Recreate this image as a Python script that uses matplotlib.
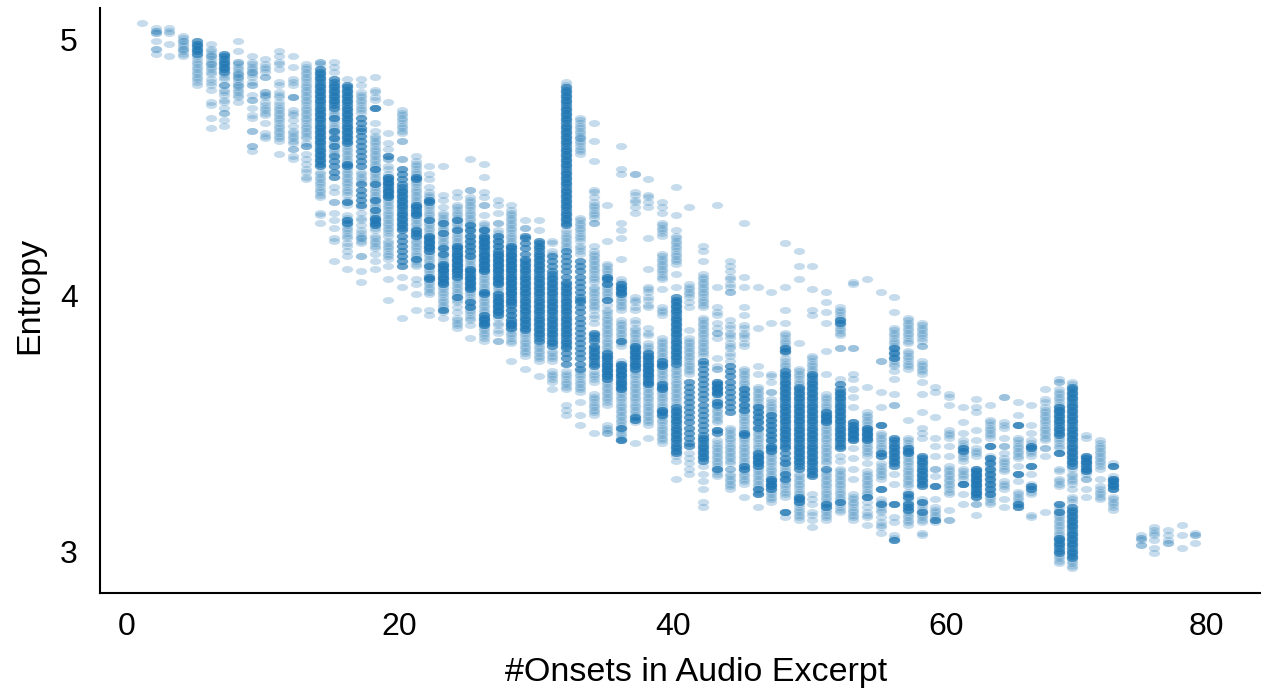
import matplotlib
matplotlib.use("Agg")
import matplotlib.pyplot as plt
from matplotlib.path import Path
from matplotlib.transforms import Affine2D
import numpy as np

plt.rcParams['font.family'] = ['Liberation Sans', 'DejaVu Sans']

# Entropy x 100 read per onset count. eNN = single points, dNN = heavily overplotted points
e01 = [507]
e02 = [505, 504, 504, 503, 503, 500, 497, 497, 495]
e03 = [505, 504, 503, 499, 494]
e04 = [502, 501, 500, 500, 499, 498, 497, 497, 496, 495, 494]
e05 = [494, 493, 492, 491, 490, 489, 488, 487, 486, 485, 484, 483]
d05 = [500, 499, 498, 497, 496, 495]
e06 = [499, 497, 496, 495, 494, 494, 493, 492, 491, 491, 490, 489, 488, 487, 485, 484, 483, 481, 476, 475, 470, 466]
e07 = [487, 486, 485, 483, 483, 483, 481, 480, 479, 477, 476, 474, 472, 472, 469, 467]
d07 = [495, 494, 493, 492, 491, 490, 489, 488]
e08 = [500, 496, 492, 492, 491, 490, 489, 488, 487, 487, 486, 486, 485, 484, 483, 483, 482, 481, 480, 479, 478, 476]
e09 = [494, 492, 491, 490, 489, 488, 488, 487, 486, 484, 483, 483, 479, 477, 477, 474, 471, 470, 465, 465, 459, 459, 457]
e10 = [493, 491, 490, 489, 488, 486, 486, 480, 480, 479, 479, 478, 476, 475, 474, 473, 472, 471, 468, 464, 463, 462]
e11 = [496, 494, 492, 491, 489, 484, 483, 480, 479, 478, 476, 475, 474, 473, 472, 471, 470, 469, 468, 467, 466, 465, 464, 463, 462, 461, 456]
e12 = [494, 490, 485, 484, 483, 478, 478, 478, 473, 472, 471, 469, 467, 465, 464, 463, 462, 461, 460, 458, 458, 455, 454]
e13 = [491, 490, 489, 488, 487, 486, 485, 484, 483, 482, 481, 480, 479, 478, 477, 476, 475, 474, 473, 472, 471, 470, 469, 468, 467, 466, 465, 464, 463, 462, 460, 459, 459, 459, 456, 454, 452, 450, 449, 447, 446]
e14 = [492, 492, 491, 449, 448, 447, 446, 445, 444, 443, 442, 441, 440, 439, 433, 432, 429]
d14 = [489, 488, 487, 486, 485, 484, 483, 482, 481, 480, 479, 478, 477, 476, 475, 474, 473, 472, 471, 470, 469, 468, 467, 466, 465, 464, 463, 462, 461, 460, 459, 458, 457, 456, 455, 454, 453, 452, 451]
e15 = [492, 490, 488, 473, 472, 471, 470, 469, 468, 467, 466, 465, 464, 463, 462, 461, 460, 459, 458, 457, 456, 443, 441, 437, 437, 433, 430, 427, 423, 422, 414]
d15 = [485, 484, 483, 482, 481, 480, 479, 478, 477, 476, 475, 474, 470, 465, 462, 459, 455, 453, 451, 449, 447]
e16 = [485, 459, 458, 457, 456, 455, 454, 453, 452, 451, 450, 449, 448, 447, 446, 445, 444, 443, 442, 441, 440, 438, 437, 436, 432, 431, 430, 429, 428, 427, 426, 425, 424, 423, 421, 420, 418, 416, 411]
d16 = [483, 482, 481, 480, 479, 478, 477, 476, 475, 474, 473, 472, 471, 470, 469, 468, 467, 466, 465, 464, 463, 462, 461, 460, 452, 451, 437, 430, 429]
e17 = [485, 483, 480, 479, 478, 477, 476, 475, 474, 473, 472, 449, 448, 447, 446, 445, 435, 433, 431, 430, 428, 426, 425, 424, 423, 423, 422, 421, 416, 416, 410, 406]
d17 = [470, 468, 466, 465, 463, 461, 459, 457, 455, 453, 451, 444, 442, 440, 438, 436]
e18 = [486, 481, 480, 478, 477, 474, 474, 468, 465, 463, 462, 461, 460, 459, 458, 457, 456, 455, 454, 453, 452, 451, 450, 449, 448, 447, 446, 445, 444, 443, 442, 441, 440, 439, 438, 437, 436, 435, 434, 433, 432, 431, 430, 429, 428, 427, 426, 424, 423, 422, 421, 420, 419, 417, 414, 411]
d18 = [474, 450, 444, 438, 434, 431, 430, 429, 428]
e19 = [476, 464, 460, 458, 455, 454, 454, 451, 450, 448, 447, 446, 445, 444, 443, 442, 441, 440, 439, 438, 437, 436, 435, 434, 433, 432, 431, 430, 429, 428, 427, 426, 425, 424, 422, 421, 420, 419, 418, 417, 416, 415, 412, 407, 399]
d19 = [455, 447, 446, 445, 444, 443, 442, 441, 440, 439]
e20 = [473, 472, 471, 470, 469, 468, 467, 466, 465, 464, 461, 461, 454, 454, 408, 404, 392]
d20 = [450, 448, 446, 444, 443, 442, 441, 440, 439, 438, 437, 436, 435, 434, 433, 432, 431, 430, 429, 428, 427, 426, 424, 422, 420, 418, 416, 414, 412]
e21 = [455, 453, 452, 451, 450, 449, 448, 447, 446, 445, 444, 443, 442, 441, 440, 439, 438, 437, 436, 435, 434, 433, 432, 431, 430, 429, 428, 427, 426, 425, 424, 423, 422, 421, 420, 419, 418, 417, 416, 415, 414, 413, 412, 407, 405, 401, 395]
d21 = [447, 446, 436, 435, 434, 433, 432, 426, 425, 424, 415]
e22 = [451, 448, 446, 443, 441, 440, 439, 438, 437, 436, 435, 434, 433, 432, 431, 430, 429, 428, 427, 426, 425, 424, 423, 422, 421, 420, 419, 418, 417, 416, 415, 414, 413, 412, 411, 410, 409, 408, 407, 406, 405, 404, 403, 402, 401, 395, 393]
d22 = [438, 437, 430, 424, 423, 422, 421, 420, 419, 418, 412, 408, 407]
e23 = [451, 440, 438, 435, 433, 432, 431, 430, 429, 428, 427, 426, 425, 424, 423, 422, 421, 420, 419, 418, 417, 416, 415, 414, 413, 412, 411, 410, 409, 408, 407, 406, 405, 404, 403, 402, 401, 400, 399, 398, 397, 396, 395, 394, 392]
d23 = [429, 425, 419, 417, 413, 412, 411, 410, 409, 408, 407, 406, 405, 395]
e24 = [441, 439, 436, 435, 434, 433, 432, 431, 430, 429, 428, 427, 426, 425, 424, 423, 422, 421, 420, 419, 418, 417, 416, 415, 414, 413, 412, 411, 410, 409, 408, 407, 406, 405, 404, 403, 402, 401, 400, 399, 398, 396, 394, 392, 391, 390, 389, 388]
d24 = [430, 426, 420, 419, 418, 417, 416, 415, 414, 413, 412, 411, 410, 409, 408, 400]
e25 = [454, 442, 442, 439, 438, 437, 436, 435, 434, 433, 432, 431, 430, 429, 428, 427, 426, 425, 424, 423, 422, 421, 420, 419, 418, 417, 416, 415, 414, 413, 412, 411, 410, 409, 408, 407, 406, 405, 404, 403, 402, 401, 400, 399, 398, 397, 396, 395, 394, 393, 392, 391, 389, 384]
d25 = [428, 426, 424, 422, 420, 418, 416, 411, 410, 409, 408, 407, 406, 405, 404, 403, 398, 396]
e26 = [452, 447, 441, 439, 436, 436, 432, 429, 428, 427, 426, 426, 425, 424, 423, 422, 421, 420, 419, 418, 417, 416, 415, 414, 413, 412, 411, 410, 409, 408, 407, 406, 405, 404, 403, 402, 401, 400, 399, 398, 397, 396, 395, 394, 393, 392, 391, 390, 389, 388, 387, 386, 385, 384, 383]
d26 = [426, 424, 423, 422, 421, 420, 419, 418, 417, 416, 415, 414, 413, 412, 411, 410, 402, 401, 393, 392, 391, 390, 389]
e27 = [438, 436, 433, 429, 429, 426, 425, 424, 423, 422, 421, 420, 419, 418, 417, 416, 415, 414, 413, 412, 411, 410, 409, 408, 407, 406, 405, 404, 403, 402, 401, 400, 399, 398, 397, 396, 395, 394, 393, 392, 390, 389, 387, 386, 383, 383]
d27 = [424, 422, 420, 418, 417, 416, 415, 414, 413, 412, 411, 410, 409, 408, 407, 406, 405, 401, 400, 399, 398, 397, 396, 395, 394, 393]
e28 = [436, 434, 433, 432, 431, 430, 429, 428, 427, 426, 425, 424, 423, 422, 421, 420, 419, 418, 417, 416, 415, 414, 413, 412, 411, 410, 409, 408, 407, 406, 405, 404, 403, 402, 401, 400, 399, 398, 397, 396, 395, 394, 393, 392, 391, 390, 389, 388, 387, 386, 385, 384, 383, 382, 375]
d28 = [420, 419, 418, 417, 416, 415, 414, 413, 412, 411, 410, 409, 408, 407, 406, 405, 404, 403, 402, 401, 400, 399, 398, 397, 395, 393, 391, 390, 389, 388]
e29 = [430, 427, 427, 386, 385, 384, 383, 382, 381, 380, 379, 378, 377, 372]
d29 = [424, 423, 421, 419, 417, 415, 414, 413, 412, 411, 410, 409, 408, 407, 406, 405, 404, 403, 402, 401, 400, 399, 398, 397, 396, 395, 394, 393, 392, 391, 390, 389, 388, 387]
e30 = [430, 426, 382, 381, 380, 379, 378, 377, 376, 375, 369]
d30 = [422, 421, 420, 419, 418, 417, 416, 415, 414, 413, 412, 411, 410, 409, 408, 407, 406, 405, 404, 403, 402, 401, 400, 399, 398, 397, 396, 395, 394, 393, 392, 391, 390, 389, 388, 387, 386, 385, 384, 383]
e31 = [422, 421, 418, 417, 379, 378, 377, 376, 375, 371, 370, 369, 368, 367, 364]
d31 = [416, 414, 412, 410, 409, 408, 407, 406, 405, 404, 403, 402, 401, 400, 399, 398, 397, 396, 395, 394, 393, 392, 391, 390, 389, 388, 387, 386, 385, 384, 383, 382, 381]
e32 = [484, 483, 426, 425, 424, 423, 422, 421, 420, 419, 371, 370, 369, 368, 367, 366, 365, 364, 358, 356, 354]
d32 = [482, 481, 480, 479, 478, 477, 476, 475, 474, 473, 472, 471, 470, 469, 468, 467, 466, 465, 464, 463, 462, 461, 460, 459, 458, 457, 456, 455, 454, 453, 452, 451, 450, 449, 448, 447, 446, 445, 444, 443, 442, 441, 440, 439, 438, 437, 436, 435, 434, 433, 432, 431, 430, 429, 428, 418, 416, 414, 412, 410, 408, 406, 405, 404, 403, 402, 401, 400, 399, 398, 397, 396, 395, 394, 393, 392, 391, 390, 389, 388, 387, 386, 385, 384, 383, 382, 381, 380, 378, 376, 374]
e33 = [470, 469, 468, 467, 466, 465, 464, 463, 462, 462, 461, 460, 459, 458, 457, 456, 431, 430, 429, 428, 427, 426, 425, 424, 423, 422, 420, 419, 418, 417, 371, 370, 369, 368, 367, 366, 365, 364, 363, 359, 354, 350]
d33 = [414, 412, 410, 408, 406, 404, 402, 400, 399, 398, 396, 394, 392, 390, 388, 386, 384, 382, 380, 378, 376, 374, 372]
e34 = [468, 461, 453, 442, 441, 439, 437, 436, 435, 434, 433, 432, 431, 429, 429, 420, 418, 417, 416, 415, 414, 413, 412, 411, 410, 409, 408, 407, 406, 404, 403, 402, 401, 400, 399, 398, 397, 396, 395, 393, 392, 390, 371, 370, 369, 368, 367, 362, 361, 360, 359, 358, 357, 356, 355, 354, 347]
d34 = [386, 385, 384, 383, 381, 380, 379, 378, 377, 376, 375, 374, 373]
e35 = [436, 422, 413, 412, 411, 410, 409, 408, 407, 406, 405, 404, 403, 402, 401, 400, 399, 397, 395, 394, 393, 392, 391, 390, 389, 388, 387, 386, 385, 384, 383, 382, 381, 380, 379, 378, 377, 376, 375, 374, 373, 372, 371, 370, 369, 368, 367, 366, 365, 364, 363, 362, 361, 360, 359, 358, 350, 349, 348, 347, 347]
d35 = [408, 407, 405, 399, 378, 377, 376, 375, 374, 373, 372, 371, 370, 369, 368]
e36 = [459, 450, 448, 429, 426, 423, 415, 407, 406, 405, 404, 403, 402, 401, 400, 399, 398, 397, 396, 395, 391, 390, 389, 388, 387, 386, 385, 384, 383, 382, 381, 375, 374, 373, 372, 371, 370, 369, 368, 367, 366, 365, 364, 363, 362, 361, 360, 359, 358, 357, 356, 355, 354, 353, 352, 351, 350, 349, 348, 347, 346, 345, 344, 344]
d36 = [405, 404, 403, 402, 401, 383, 374, 373, 372, 371, 370, 369, 368, 367, 366, 365, 364, 349, 344]
e37 = [448, 448, 441, 440, 438, 437, 435, 433, 400, 399, 398, 396, 395, 391, 390, 388, 387, 386, 385, 384, 383, 382, 381, 380, 379, 378, 377, 376, 375, 374, 373, 372, 371, 370, 369, 368, 367, 366, 365, 364, 363, 362, 361, 360, 359, 358, 357, 356, 355, 354, 353, 352, 351, 343]
d37 = [381, 380, 379, 378, 377, 376, 375, 374, 373, 372, 353, 352]
e38 = [446, 440, 439, 437, 435, 423, 411, 404, 403, 402, 400, 399, 397, 396, 388, 386, 385, 382, 381, 380, 379, 378, 377, 376, 375, 374, 373, 372, 371, 370, 369, 368, 367, 366, 365, 364, 363, 362, 361, 360, 359, 358, 357, 356, 355, 354, 353, 352, 351, 350, 345]
d38 = [378, 377, 376, 375, 374, 373, 372, 371, 370, 369, 368, 367, 366]
e39 = [437, 435, 433, 429, 428, 427, 426, 425, 424, 417, 416, 415, 414, 413, 412, 411, 410, 409, 408, 407, 403, 396, 395, 394, 393, 384, 383, 382, 381, 380, 379, 378, 377, 376, 375, 374, 373, 372, 371, 370, 369, 368, 367, 366, 365, 364, 363, 362, 361, 360, 359, 358, 357, 356, 355, 354, 353, 352, 351, 350, 349, 348, 347, 346, 345, 344, 343]
d39 = [375, 374, 373, 366, 365, 364, 356, 355, 354]
e40 = [443, 432, 426, 424, 423, 422, 421, 420, 419, 418, 417, 416, 415, 414, 413, 409, 404, 373, 372, 371, 370, 369, 368, 367, 366, 365, 364, 363, 362, 361, 360, 359, 358, 338, 336, 329]
d40 = [400, 399, 398, 397, 396, 395, 394, 393, 392, 391, 390, 389, 388, 387, 386, 385, 384, 383, 382, 381, 380, 379, 378, 377, 376, 375, 374, 357, 356, 355, 354, 353, 352, 351, 350, 349, 348, 347, 346, 345, 344, 343, 342, 341, 340, 339]
e41 = [435, 405, 404, 403, 402, 401, 400, 398, 396, 387, 384, 383, 382, 381, 380, 379, 378, 377, 376, 375, 374, 373, 372, 371, 370, 339, 337, 335, 333, 331]
d41 = [367, 365, 363, 361, 359, 357, 355, 353, 351, 349, 347, 345, 343, 342]
e42 = [420, 418, 414, 409, 408, 407, 406, 405, 404, 403, 402, 401, 400, 399, 398, 397, 396, 392, 391, 390, 389, 388, 387, 386, 385, 384, 383, 382, 381, 380, 379, 378, 377, 334, 331, 328, 325, 320, 318]
d42 = [375, 374, 372, 370, 368, 366, 364, 362, 360, 358, 356, 354, 352, 350, 348, 346, 345, 344, 343, 342, 341, 340, 339, 338, 337, 336]
e43 = [436, 404, 396, 394, 393, 390, 388, 386, 386, 384, 376, 373, 372, 372, 367, 366, 365, 364, 363, 362, 360, 359, 358, 357, 356, 355, 354, 353, 352, 351, 348, 348, 344, 343, 342, 341, 340, 339, 338, 337, 336, 335, 334, 333, 332, 331, 330]
d43 = [367, 366, 365, 364, 363, 362, 359, 358, 348, 347, 333]
e44 = [414, 412, 410, 408, 407, 405, 404, 402, 402, 391, 389, 388, 386, 385, 384, 382, 381, 380, 378, 377, 375, 349, 348, 347, 346, 345, 344, 343, 342, 341, 340, 339, 338, 337, 336, 335, 333, 333, 331, 330, 329, 328, 327, 326, 325]
d44 = [373, 371, 369, 367, 365, 363, 361, 359, 357, 355]
e45 = [429, 408, 404, 396, 393, 389, 388, 386, 385, 384, 382, 381, 372, 371, 370, 369, 368, 367, 366, 365, 364, 363, 362, 361, 360, 359, 358, 357, 356, 355, 354, 353, 352, 351, 350, 349, 348, 347, 346, 345, 344, 343, 342, 341, 340, 339, 338, 337, 336, 335, 334, 333, 332, 331, 330, 329, 328, 327, 322]
d45 = [364, 362, 360, 358, 356, 347, 346, 334, 333]
e46 = [404, 388, 373, 370, 365, 364, 363, 362, 361, 360, 359, 358, 357, 356, 355, 354, 353, 352, 351, 350, 349, 348, 347, 346, 345, 344, 343, 342, 341, 340, 339, 338, 337, 336, 335, 334, 333, 332, 331, 330, 329, 328, 327, 326, 325, 324, 323, 318]
d46 = [357, 355, 353, 351, 349, 339, 338, 337, 336, 335, 334, 325, 323]
e47 = [402, 390, 370, 369, 367, 363, 363, 360, 359, 358, 357, 356, 355, 354, 353, 352, 351, 350, 349, 348, 347, 346, 345, 344, 343, 342, 341, 340, 339, 338, 337, 336, 335, 334, 333, 332, 331, 330, 329, 328, 327, 326, 325, 324, 323, 322, 321, 320]
d47 = [354, 352, 350, 348, 346, 344, 342, 341, 340, 329, 328, 327, 326, 325]
e48 = [421, 404, 395, 390, 386, 385, 384, 383, 382, 381, 380, 379, 379, 378, 376, 375, 374, 373, 372, 336, 335, 334, 333, 332, 331, 330, 329, 328, 327, 326, 325, 324, 323, 322, 316, 316, 314]
d48 = [380, 379, 371, 370, 369, 368, 367, 366, 365, 364, 363, 362, 361, 360, 359, 358, 357, 356, 355, 354, 353, 352, 351, 350, 349, 348, 347, 346, 345, 344, 343, 342, 341, 339, 337, 335, 331, 329, 316]
e49 = [418, 412, 407, 382, 372, 371, 370, 369, 368, 367, 366, 331, 330, 329, 328, 327, 326, 325, 324, 323, 322, 321, 320, 319, 318, 317, 316, 315, 314, 313]
d49 = [365, 364, 363, 362, 361, 360, 359, 358, 357, 356, 355, 354, 353, 352, 351, 350, 349, 348, 347, 346, 345, 344, 343, 342, 341, 340, 339, 338, 337, 336, 335, 334, 333, 322, 321, 320]
e50 = [412, 403, 395, 393, 377, 376, 375, 374, 373, 372, 371, 323, 321, 319, 316, 315, 313, 310]
d50 = [370, 369, 368, 367, 366, 365, 364, 363, 362, 361, 360, 359, 358, 357, 356, 355, 354, 353, 352, 351, 350, 349, 348, 347, 346, 345, 344, 343, 342, 341, 340, 339, 338, 337, 336, 335, 334, 333, 332, 331, 330]
e51 = [402, 398, 394, 390, 379, 370, 362, 361, 360, 359, 358, 357, 356, 355, 354, 353, 352, 351, 350, 349, 348, 347, 346, 345, 344, 343, 342, 341, 340, 339, 338, 337, 336, 335, 332, 331, 330, 329, 328, 327, 326, 325, 324, 323, 322, 321, 320, 319, 318, 317, 316, 315, 314, 313]
d51 = [355, 354, 353, 352, 351, 333, 319, 318]
e52 = [396, 395, 394, 393, 392, 391, 390, 389, 388, 387, 386, 385, 380, 380, 368, 338, 336, 333, 332, 331, 330, 329, 328, 327, 326, 325, 324, 323, 322, 321, 320, 319, 318, 317, 316]
d52 = [391, 390, 366, 364, 363, 362, 361, 360, 359, 358, 357, 356, 355, 354, 353, 352, 351, 350, 349, 348, 347, 346, 345, 344, 343, 342, 341, 320]
e53 = [406, 405, 380, 380, 370, 368, 364, 361, 357, 351, 350, 349, 348, 347, 346, 345, 344, 341, 337, 333, 329, 323, 322, 321, 320, 319, 318, 317, 316, 315, 314, 313]
d53 = [351, 350, 349, 348, 347, 346, 345, 344]
e54 = [407, 365, 355, 354, 353, 352, 351, 350, 349, 348, 347, 346, 345, 344, 343, 342, 341, 340, 339, 338, 335, 332, 331, 330, 329, 328, 327, 326, 325, 324, 323, 322, 322, 320, 318, 316, 315, 314, 311]
d54 = [349, 348, 347, 346, 345, 344, 322]
e55 = [402, 375, 375, 363, 357, 350, 350, 347, 346, 345, 344, 343, 342, 341, 340, 339, 338, 335, 334, 333, 332, 331, 330, 329, 325, 325, 321, 320, 319, 318, 317, 316, 314, 312, 311, 310, 308]
d55 = [350, 339, 338, 325, 319]
e56 = [400, 394, 388, 387, 386, 385, 384, 383, 382, 381, 380, 379, 378, 377, 376, 375, 374, 373, 371, 368, 362, 358, 358, 331, 327, 319, 319, 314, 312, 307, 306, 305]
d56 = [380, 378, 376, 345, 344, 343, 342, 341, 340, 339, 338, 337, 336, 335, 334, 319, 305]
e57 = [392, 391, 390, 389, 388, 387, 386, 385, 384, 383, 382, 379, 378, 377, 376, 375, 374, 373, 372, 352, 345, 344, 343, 342, 341, 340, 339, 338, 337, 336, 335, 334, 333, 332, 331, 330, 329, 328, 327, 326, 324, 323, 322, 321, 320, 319, 318, 317, 316, 315, 314, 313, 312, 311]
d57 = [341, 340, 339, 323, 322, 319, 318, 317]
e58 = [390, 389, 388, 387, 386, 385, 384, 383, 381, 381, 375, 374, 373, 372, 371, 370, 367, 362, 355, 349, 347, 345, 321, 320, 319, 318, 317, 316, 315, 314, 313, 312, 308, 307]
d58 = [338, 337, 336, 335, 334, 333, 332, 331, 330, 329, 328, 327, 326, 320, 316]
e59 = [365, 363, 353, 345, 342, 338, 333, 333, 330, 326, 326, 321, 318, 317, 316, 315, 314, 313, 312]
d59 = [326, 313]
e60 = [362, 361, 358, 348, 347, 346, 345, 342, 338, 334, 333, 332, 331, 330, 329, 328, 327, 326, 325, 324, 323, 317, 313, 313]
e61 = [357, 351, 347, 344, 343, 342, 341, 340, 339, 338, 337, 336, 333, 332, 331, 330, 329, 327, 327, 327, 323, 319]
d61 = [341, 340, 327]
e62 = [360, 357, 355, 348, 344, 341, 340, 339, 338, 333, 332, 331, 330, 329, 328, 327, 326, 325, 324, 323, 322, 319, 319, 315]
d62 = [333, 332, 331, 330, 329, 328, 327, 326, 325, 324, 323, 322]
e63 = [358, 352, 351, 350, 349, 348, 347, 346, 345, 342, 342, 338, 337, 336, 335, 334, 333, 332, 331, 330, 329, 328, 327, 326, 325, 324, 323, 322, 321, 320, 319]
d63 = [342, 337, 335, 333, 331, 329, 327, 325, 323]
e64 = [361, 361, 351, 350, 349, 345, 342, 342, 339, 337, 336, 335, 334, 333, 332, 328, 327, 326, 325, 321, 318]
e65 = [359, 354, 350, 350, 345, 344, 343, 342, 341, 340, 339, 338, 337, 334, 331, 331, 328, 324, 323, 322, 321, 320, 319, 318]
d65 = [350, 331, 319, 318]
e66 = [358, 350, 347, 344, 343, 342, 341, 340, 339, 338, 334, 334, 331, 327, 326, 325, 324, 323, 315, 314]
d66 = [342, 341, 334, 326, 325]
e67 = [364, 360, 359, 357, 356, 355, 354, 353, 352, 351, 350, 349, 348, 347, 346, 345, 344, 341, 341, 338, 316]
e68 = [368, 367, 367, 364, 363, 362, 361, 360, 359, 358, 357, 356, 345, 344, 343, 342, 341, 339, 339, 333, 332, 329, 328, 327, 326, 319, 318, 317, 316, 315, 314, 313, 312, 311, 310, 309, 308, 307, 306, 299, 298, 297, 296]
d68 = [357, 356, 355, 354, 353, 352, 351, 350, 349, 348, 347, 346, 339, 319, 316, 306, 305, 304, 303, 302, 301, 300]
e69 = [367, 366, 333, 331, 330, 329, 328, 327, 325, 322, 321, 320, 297, 296, 295, 294]
d69 = [365, 364, 363, 362, 361, 360, 359, 358, 357, 356, 355, 354, 353, 352, 351, 350, 349, 348, 347, 346, 345, 344, 343, 342, 341, 340, 339, 338, 337, 336, 335, 334, 318, 317, 316, 315, 314, 313, 312, 311, 310, 309, 308, 307, 306, 305, 304, 303, 302, 301, 300, 299, 298]
e70 = [346, 345, 338, 337, 336, 335, 334, 333, 332, 331, 329, 329, 325, 322]
d70 = [338, 337, 336, 335, 334, 333, 332]
e71 = [344, 343, 342, 341, 340, 339, 338, 337, 336, 335, 334, 333, 329, 326, 325, 324, 323, 322, 321]
e72 = [335, 334, 334, 330, 329, 329, 328, 327, 326, 325, 325, 322, 321, 320, 319, 318, 317]
d72 = [334, 329, 328, 327, 326, 325]
e74 = [307, 306, 306, 305, 303, 303]
e75 = [310, 309, 308, 307, 305, 302, 300]
e76 = [309, 307, 305, 304, 304]
e77 = [311, 307, 302]
e78 = [308, 307, 307, 304]

onsets = [1, 2, 3, 4, 5, 6, 7, 8, 9, 10, 11, 12, 13, 14, 15, 16, 17, 18, 19, 20, 21, 22, 23, 24, 25, 26,
          27, 28, 29, 30, 31, 32, 33, 34, 35, 36, 37, 38, 39, 40, 41, 42, 43, 44, 45, 46, 47, 48, 49, 50,
          51, 52, 53, 54, 55, 56, 57, 58, 59, 60, 61, 62, 63, 64, 65, 66, 67, 68, 69, 70, 71, 72, 74, 75, 76, 77, 78]
singles = [e01, e02, e03, e04, e05, e06, e07, e08, e09, e10, e11, e12, e13, e14, e15, e16, e17, e18, e19, e20,
           e21, e22, e23, e24, e25, e26, e27, e28, e29, e30, e31, e32, e33, e34, e35, e36, e37, e38, e39, e40,
           e41, e42, e43, e44, e45, e46, e47, e48, e49, e50, e51, e52, e53, e54, e55, e56, e57, e58, e59, e60,
           e61, e62, e63, e64, e65, e66, e67, e68, e69, e70, e71, e72, e74, e75, e76, e77, e78]
heavy = {5: d05, 7: d07, 14: d14, 15: d15, 16: d16, 17: d17, 18: d18, 19: d19, 20: d20, 21: d21, 22: d22, 23: d23,
         24: d24, 25: d25, 26: d26, 27: d27, 28: d28, 29: d29, 30: d30, 31: d31, 32: d32, 33: d33, 34: d34, 35: d35,
         36: d36, 37: d37, 38: d38, 39: d39, 40: d40, 41: d41, 42: d42, 43: d43, 44: d44, 45: d45, 46: d46, 47: d47,
         48: d48, 49: d49, 50: d50, 51: d51, 52: d52, 53: d53, 54: d54, 55: d55, 56: d56, 57: d57, 58: d58, 59: d59,
         61: d61, 62: d62, 63: d63, 65: d65, 66: d66, 68: d68, 69: d69, 70: d70, 72: d72}

xs, ys = [], []
for n, vals in zip(onsets, singles):
    xs += [n] * len(vals)
    ys += vals
for n, vals in heavy.items():
    xs += [n] * (4 * len(vals))
    ys += vals * 4
xs = np.array(xs)
ys = np.array(ys) / 100

# the points are squashed circles in the original
oval = Path.unit_circle().transformed(Affine2D().scale(1, 0.62))

fig = plt.figure(figsize=(12.61, 6.92), dpi=100)
ax = fig.add_axes([100 / 1261, 1 - 593 / 692, 1161 / 1261, 585 / 692])
ax.scatter(xs, ys, s=66, marker=oval, c="#1f77b4", alpha=0.25, linewidths=0, clip_on=False)

ax.set_xlim(-2.08, 82.8)
ax.set_ylim(2.844, 5.129)
ax.spines["top"].set_visible(False)
ax.spines["right"].set_visible(False)
ax.spines["left"].set_linewidth(1.5)
ax.spines["bottom"].set_linewidth(1.5)
ax.set_xticks([-0.1, 19.8, 39.8, 59.8, 78.8])
ax.set_xticklabels(["0", "20", "40", "60", "80"])
ax.set_yticks([3.005, 4.005, 5.005])
ax.set_yticklabels(["3", "4", "5"])
ax.tick_params(length=0, labelsize=23)
ax.tick_params(axis="x", pad=14)
ax.tick_params(axis="y", pad=16)
ax.set_xlabel("#Onsets in Audio Excerpt", fontsize=24.5)
ax.set_ylabel("Entropy", fontsize=24.5)
ax.xaxis.set_label_coords((696.5 - 100) / 1161, -(672 - 593) / 585, )
ax.xaxis.label.set_va("center")
ax.yaxis.set_label_coords((30 - 100) / 1161, (593 - 295) / 585)
ax.yaxis.label.set_va("center")

fig.savefig("out.png", dpi=100)
